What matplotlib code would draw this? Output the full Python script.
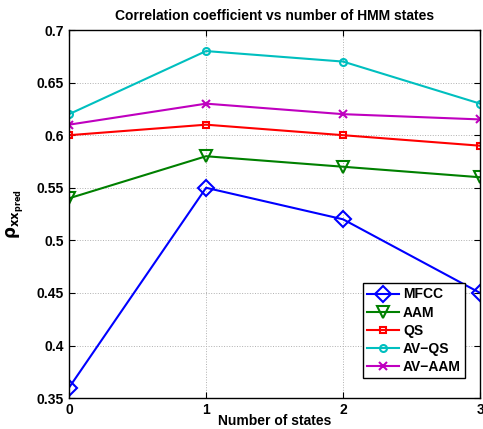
import matplotlib
matplotlib.use("Agg")
import matplotlib.pyplot as plt

plt.rcParams["font.family"] = ["Liberation Sans", "DejaVu Sans"]
plt.rcParams["font.weight"] = "bold"
plt.rcParams["mathtext.default"] = "bf"

states = [0, 1, 2, 3]
mfcc = [0.36, 0.55, 0.52, 0.45]
aam = [0.54, 0.58, 0.57, 0.56]
qs = [0.60, 0.61, 0.60, 0.59]
av_qs = [0.62, 0.68, 0.67, 0.63]
av_aam = [0.61, 0.63, 0.62, 0.615]

yticks = [0.35, 0.4, 0.45, 0.5, 0.55, 0.6, 0.65, 0.7]
ytick_labels = ["0.35", "0.4", "0.45", "0.5", "0.55", "0.6", "0.65", "0.7"]

fig = plt.figure(figsize=(4.83, 4.29), dpi=100)
ax = fig.add_axes([0.143, 0.072, 0.851, 0.858])

ax.plot(states, mfcc, color=(0, 0, 1), lw=1.5, marker="D", ms=8,
        mfc="none", mew=1.5, label="MFCC")
ax.plot(states, aam, color=(0, 0.5, 0), lw=1.5, marker="v", ms=9,
        mfc="none", mew=1.5, label="AAM")
ax.plot(states, qs, color=(1, 0, 0), lw=1.5, marker="s", ms=4,
        mfc="none", mew=1.5, label="QS")
ax.plot(states, av_qs, color=(0, 0.75, 0.75), lw=1.5, marker="o", ms=5,
        mfc="none", mew=1.5, label="AV\u2212QS")
ax.plot(states, av_aam, color=(0.75, 0, 0.75), lw=1.5, marker="x", ms=6,
        mew=1.5, label="AV\u2212AAM")

ax.set_xlim(0, 3)
ax.set_ylim(0.35, 0.7)
ax.set_xticks(states)
ax.set_yticks(yticks)
ax.set_yticklabels(ytick_labels)
ax.tick_params(direction="in", labelsize=10, length=4, top=True, right=True)
for lab in ax.get_xticklabels() + ax.get_yticklabels():
    lab.set_fontweight("bold")
ax.grid(True, linestyle=":", color="#b0b0b0", lw=0.7)
for s in ax.spines.values():
    s.set_linewidth(1.0)

ax.set_title("Correlation coefficient vs number of HMM states",
             fontsize=10, fontweight="bold", pad=7)
ax.set_xlabel("Number of states", fontsize=10, fontweight="bold", labelpad=-2)
ax.set_ylabel(r"$\rho_{xx_{pred}}$", fontsize=12, labelpad=8)

leg = ax.legend(loc="lower right", bbox_to_anchor=(0.9635, 0.054),
                borderaxespad=0,
                fancybox=False, edgecolor="black", framealpha=1,
                prop={"weight": "bold", "size": 10}, handlelength=2.3,
                borderpad=0.3, labelspacing=0.3, handletextpad=0.3)
leg.get_frame().set_linewidth(1.0)

fig.savefig("out.png", dpi=100)
